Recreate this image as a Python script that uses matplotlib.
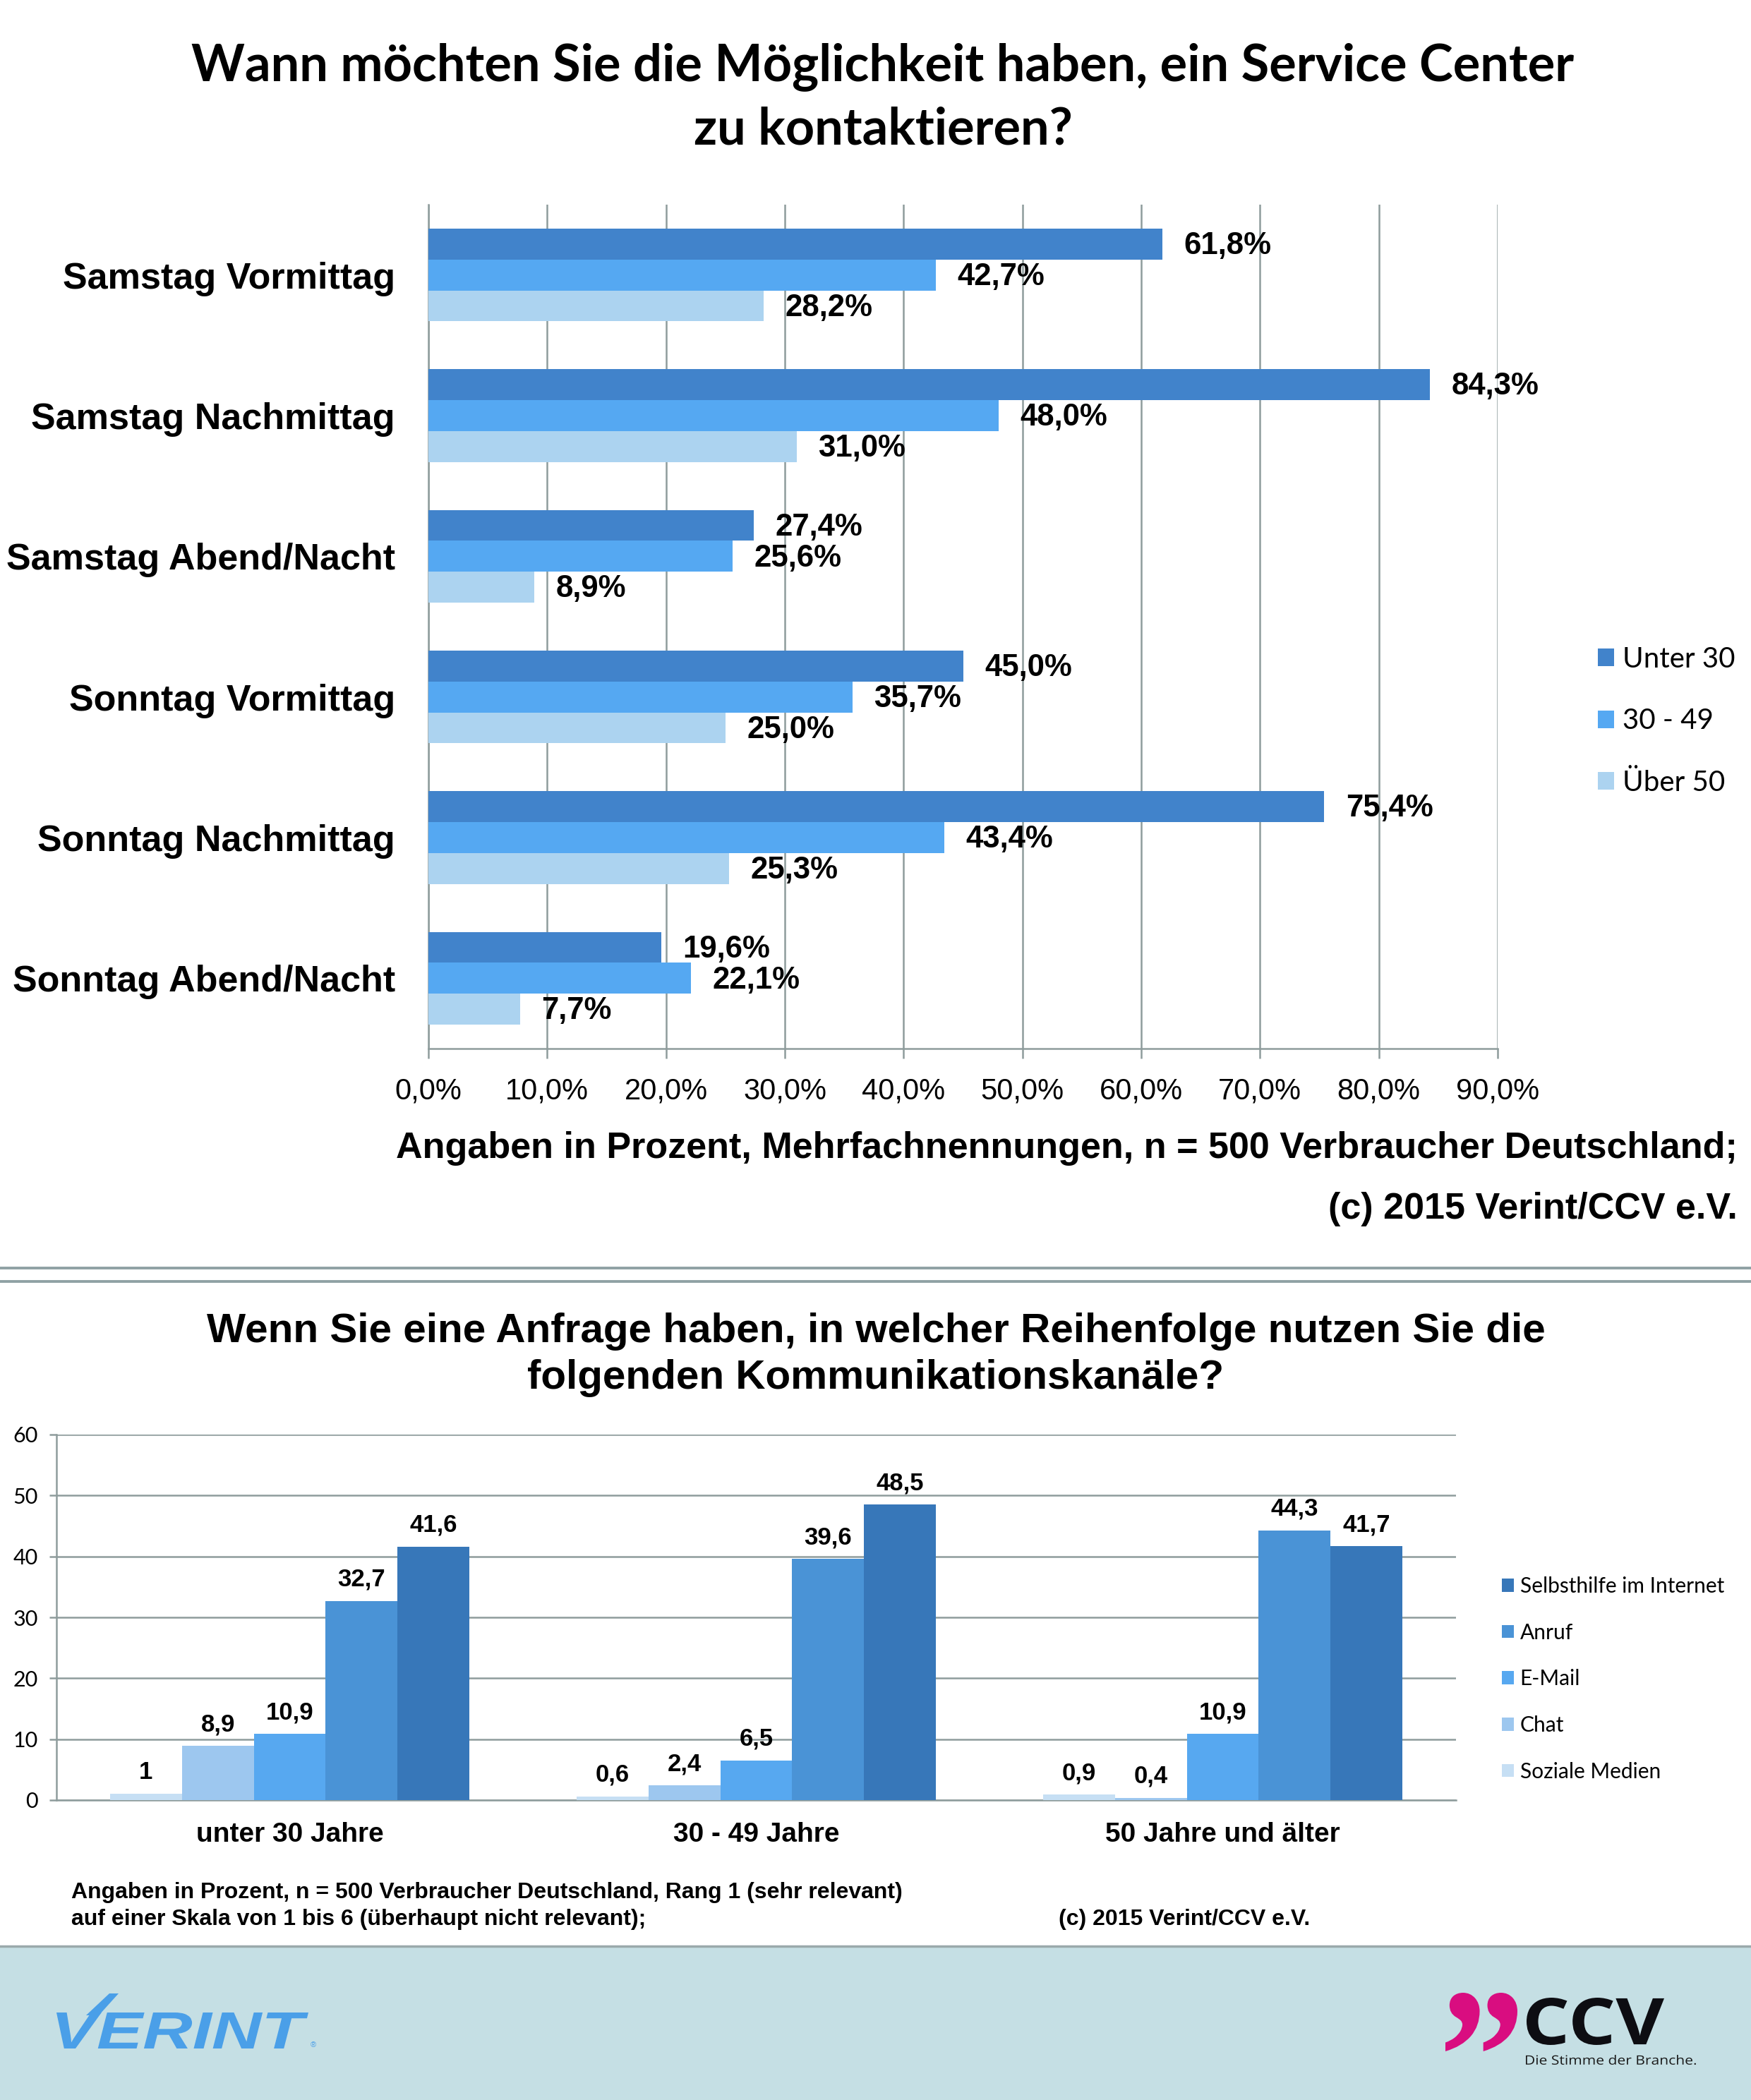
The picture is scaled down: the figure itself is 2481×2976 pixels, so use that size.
import numpy as np
import matplotlib
matplotlib.use("Agg")
import matplotlib.pyplot as plt
from matplotlib.patches import Rectangle, PathPatch, Polygon
from matplotlib.textpath import TextPath
from matplotlib.font_manager import FontProperties
from matplotlib.transforms import Affine2D

W, H = 2481, 2976
DPI = 100

# --- top chart: when customers want to reach a service center ---
days = ["Samstag Vormittag", "Samstag Nachmittag", "Samstag Abend/Nacht",
        "Sonntag Vormittag", "Sonntag Nachmittag", "Sonntag Abend/Nacht"]
unter30 = [61.8, 84.3, 27.4, 45.0, 75.4, 19.6]
mitte = [42.7, 48.0, 25.6, 35.7, 43.4, 22.1]
ueber50 = [28.2, 31.0, 8.9, 25.0, 25.3, 7.7]
age_labels = ["Unter 30", "30 - 49", "Über 50"]
age_colors = ["#4183cb", "#55a8f2", "#acd3f0"]
pct_ticks = [0, 10, 20, 30, 40, 50, 60, 70, 80, 90]

# --- bottom chart: channel order by age group ---
groups = ["unter 30 Jahre", "30 - 49 Jahre", "50 Jahre und älter"]
soziale = [1, 0.6, 0.9]
chat = [8.9, 2.4, 0.4]
email = [10.9, 6.5, 10.9]
anruf = [32.7, 39.6, 44.3]
selbsthilfe = [41.6, 48.5, 41.7]
channels = ["Soziale Medien", "Chat", "E-Mail", "Anruf", "Selbsthilfe im Internet"]
channel_colors = ["#c6dff4", "#9dc7ef", "#57a8f0", "#4a93d6", "#3777b9"]

GRID = "#8e9c9c"
plt.rcParams["font.family"] = ["Liberation Sans", "DejaVu Sans"]


def box(x0, y0, x1, y1):
    # pixel box (from top-left) -> figure fraction rect
    return [x0 / W, 1 - y1 / H, (x1 - x0) / W, (y1 - y0) / H]


def de(v, digits=None):
    if digits is None:
        return ("%g" % v).replace(".", ",")
    return ("%.*f" % (digits, v)).replace(".", ",")


def fit_text(ax, s, x0, y0, x1, y1, color, family, weight="bold", style="normal"):
    tp = TextPath((0, 0), s, size=100,
                  prop=FontProperties(family=family, weight=weight, style=style))
    bb = tp.get_extents()
    tr = (Affine2D().translate(-bb.x0, -bb.y0)
          .scale((x1 - x0) / bb.width, -(y1 - y0) / bb.height)
          .translate(x0, y1))
    ax.add_patch(PathPatch(tr.transform_path(tp), facecolor=color, lw=0))


fig = plt.figure(figsize=(W / DPI, H / DPI), dpi=DPI, facecolor="white")

# background layer for separators, footer and logos
bg = fig.add_axes([0, 0, 1, 1], zorder=0)
bg.set_xlim(0, W)
bg.set_ylim(H, 0)
bg.axis("off")

bg.plot([0, W], [1797, 1797], color="#8fa1a4", lw=2.8)
bg.plot([0, W], [1816, 1816], color="#8fa1a4", lw=2.8)
bg.add_patch(Rectangle((0, 2758), W, H - 2758, facecolor="#c5dfe4", lw=0))
bg.plot([0, W], [2758, 2758], color="#9aa9ab", lw=2.5)

# logos
fit_text(bg, "VERINT", 80, 2852, 437, 2903, "#4a9fe8", "Liberation Sans", style="italic")
bg.add_patch(Polygon([(155, 2825), (168, 2825), (140, 2856), (122, 2856)],
                     closed=True, facecolor="#4a9fe8", lw=0))
bg.text(440, 2903, "®", color="#4a9fe8", fontsize=8, ha="left", va="bottom")
fit_text(bg, "\u201d", 2048, 2824, 2150, 2907, "#d90d80", "Liberation Serif")
fit_text(bg, "CCV", 2163, 2831, 2358, 2898, "#0d0d12", "Open Sans")
fit_text(bg, "Die Stimme der Branche.", 2162, 2912, 2403, 2926, "#1a1a1a", "Open Sans",
         weight="normal")

# titles
bg.text(1251, 95, "Wann möchten Sie die Möglichkeit haben, ein Service Center",
        ha="center", va="center", fontsize=52, fontweight="bold", family="Lato")
bg.text(1251, 184, "zu kontaktieren?",
        ha="center", va="center", fontsize=52, fontweight="bold", family="Lato")
bg.text(1241, 1887, "Wenn Sie eine Anfrage haben, in welcher Reihenfolge nutzen Sie die",
        ha="center", va="center", fontsize=42, fontweight="bold")
bg.text(1241, 1953, "folgenden Kommunikationskanäle?",
        ha="center", va="center", fontsize=42, fontweight="bold")

# notes
bg.text(2462, 1627, "Angaben in Prozent, Mehrfachnennungen, n = 500 Verbraucher Deutschland;",
        ha="right", va="center", fontsize=37.5, fontweight="bold")
bg.text(2462, 1714, "(c) 2015 Verint/CCV e.V.",
        ha="right", va="center", fontsize=37.5, fontweight="bold")
bg.text(101, 2682, "Angaben in Prozent, n = 500 Verbraucher Deutschland, Rang 1 (sehr relevant)",
        ha="left", va="center", fontsize=23, fontweight="bold")
bg.text(101, 2720, "auf einer Skala von 1 bis 6 (überhaupt nicht relevant);",
        ha="left", va="center", fontsize=23, fontweight="bold")
bg.text(1500, 2720, "(c) 2015 Verint/CCV e.V.",
        ha="left", va="center", fontsize=23, fontweight="bold")

# ---------------- top chart ----------------
ax1 = fig.add_axes(box(607, 290, 2122, 1486), zorder=1)
ax1.patch.set_alpha(0)
y = np.arange(len(days))
h = 0.22
top_handles = []
for i, (vals, lab, col) in enumerate(zip([unter30, mitte, ueber50], age_labels, age_colors)):
    bars = ax1.barh(y + (i - 1) * h, vals, height=h, color=col, label=lab, zorder=3)
    top_handles.append(bars)
    for b, v in zip(bars, vals):
        ax1.annotate(de(v, 1) + "%", (v, b.get_y() + h / 2), xytext=(22, -2),
                     textcoords="offset points", va="center", ha="left",
                     fontsize=31.5, fontweight="bold")

ax1.set_ylim(5.5, -0.5)
ax1.set_xlim(0, 90)
ax1.set_xticks(pct_ticks)
ax1.set_xticklabels([f"{t},0%" for t in pct_ticks])
ax1.set_yticks(y)
ax1.set_yticklabels(days, fontweight="bold")
ax1.xaxis.grid(True, color=GRID, lw=1.8)
ax1.set_axisbelow(True)
ax1.tick_params(axis="x", length=10, width=1.8, color=GRID, pad=19, labelsize=30)
ax1.tick_params(axis="y", length=0, pad=34, labelsize=37.5)
for s in ["top", "right"]:
    ax1.spines[s].set_visible(False)
for s in ["left", "bottom"]:
    ax1.spines[s].set_color(GRID)
    ax1.spines[s].set_linewidth(1.8)

fig.legend(top_handles, age_labels, loc="upper left",
           bbox_to_anchor=(2264 / W, 1 - 916 / H), bbox_transform=fig.transFigure,
           frameon=False, prop=FontProperties(family="Lato", size=29),
           handlelength=0.58, handleheight=0.58, handletextpad=0.3,
           labelspacing=1.25, borderpad=0, borderaxespad=0)

# ---------------- bottom chart ----------------
ax2 = fig.add_axes(box(80, 2033, 2063, 2551), zorder=1)
ax2.patch.set_alpha(0)
x = np.arange(len(groups))
w = 0.154
bot_handles = []
for i, (vals, name, col) in enumerate(zip([soziale, chat, email, anruf, selbsthilfe],
                                          channels, channel_colors)):
    bars = ax2.bar(x + (i - 2) * w, vals, width=w, color=col, label=name, zorder=3)
    bot_handles.append(bars)
    for b, v in zip(bars, vals):
        ax2.annotate(de(v), (b.get_x() + w / 2, v), xytext=(0, 10), textcoords="offset points",
                     ha="center", va="bottom", fontsize=25, fontweight="bold")

ax2.set_ylim(0, 60)
ax2.set_xlim(-0.5, 2.5)
ax2.set_yticks(range(0, 61, 10))
ax2.set_xticks(x)
ax2.set_xticklabels(groups, fontweight="bold")
ax2.yaxis.grid(True, color=GRID, lw=1.8)
ax2.set_axisbelow(True)
ax2.tick_params(axis="y", length=7, width=1.8, color=GRID, pad=12, labelsize=22)
ax2.tick_params(axis="x", length=0, pad=22, labelsize=28)
for lab in ax2.get_yticklabels():
    lab.set_fontfamily("Lato")
for s in ["top", "right"]:
    ax2.spines[s].set_visible(False)
for s in ["left", "bottom"]:
    ax2.spines[s].set_color(GRID)
    ax2.spines[s].set_linewidth(1.8)

fig.legend(bot_handles[::-1], channels[::-1], loc="upper left",
           bbox_to_anchor=(2128 / W, 1 - 2234 / H), bbox_transform=fig.transFigure,
           frameon=False, prop=FontProperties(family="Lato", size=21.5),
           handlelength=0.58, handleheight=0.58, handletextpad=0.28,
           labelspacing=1.26, borderpad=0, borderaxespad=0)

fig.savefig("out.png", dpi=DPI, facecolor="white")
